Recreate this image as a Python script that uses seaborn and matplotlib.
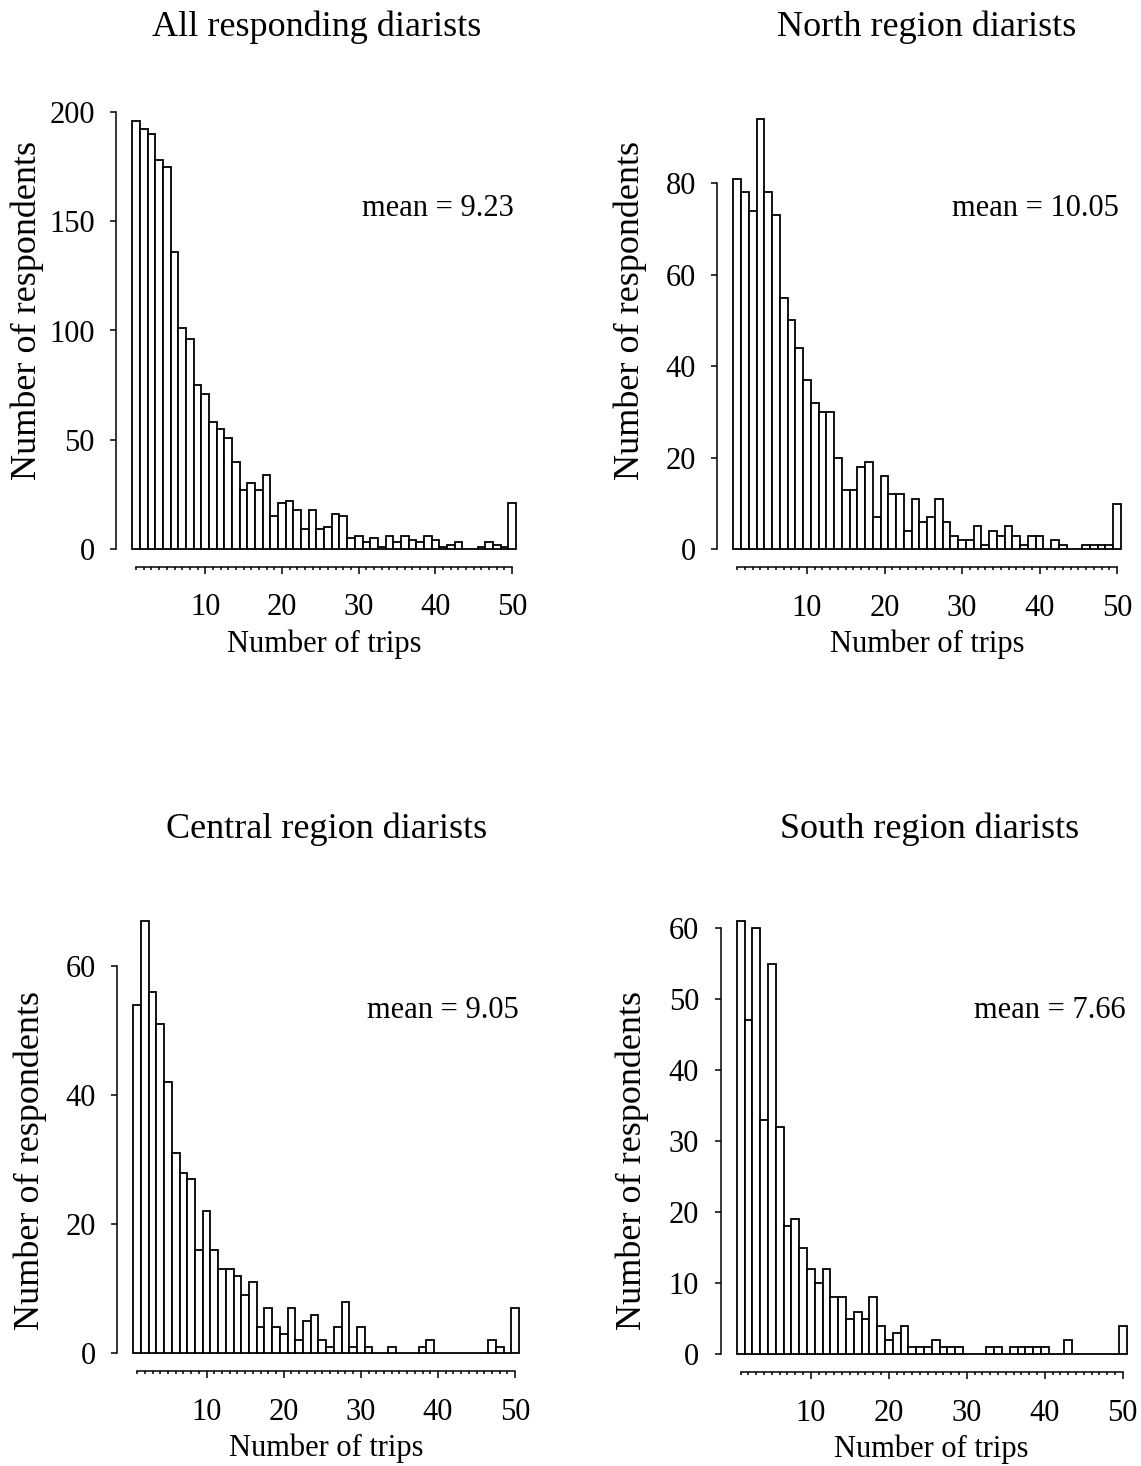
import numpy as np
import pandas as pd
import matplotlib
matplotlib.use("Agg")
import matplotlib.pyplot as plt
import seaborn as sns

trips = list(range(1, 51))

all_counts = [196, 192, 190, 178, 175, 136, 101, 96, 75, 71, 58, 55, 51, 40, 27, 30, 27, 34, 15, 21,
              22, 18, 9, 18, 9, 10, 16, 15, 5, 6, 3, 5, 1, 6, 3, 6, 4, 3, 6, 4,
              1, 2, 3, 0, 0, 1, 3, 2, 1, 21]
north_counts = [81, 78, 74, 94, 78, 73, 55, 50, 44, 37, 32, 30, 30, 20, 13, 13, 18, 19, 7, 16,
                12, 12, 4, 11, 6, 7, 11, 6, 3, 2, 2, 5, 1, 4, 3, 5, 3, 1, 3, 3,
                0, 2, 1, 0, 0, 1, 1, 1, 1, 10]
central_counts = [54, 67, 56, 51, 42, 31, 28, 27, 16, 22, 16, 13, 13, 12, 9, 11, 4, 7, 4, 3,
                  7, 2, 5, 6, 2, 1, 4, 8, 1, 4, 1, 0, 0, 1, 0, 0, 0, 1, 2, 0,
                  0, 0, 0, 0, 0, 0, 2, 1, 0, 7]
south_counts = [61, 47, 60, 33, 55, 32, 18, 19, 15, 12, 10, 12, 8, 8, 5, 6, 5, 8, 4, 2,
                3, 4, 1, 1, 1, 2, 1, 1, 1, 0, 0, 0, 1, 1, 0, 1, 1, 1, 1, 1,
                0, 0, 2, 0, 0, 0, 0, 0, 0, 4]

titles = ["All responding diarists", "North region diarists",
          "Central region diarists", "South region diarists"]
means = ["mean = 9.23", "mean = 10.05", "mean = 9.05", "mean = 7.66"]
xtick_labels = [10, 20, 30, 40, 50]
ytick_sets = [[0, 50, 100, 150, 200], [0, 20, 40, 60, 80],
              [0, 20, 40, 60], [0, 10, 20, 30, 40, 50, 60]]
xlabel = "Number of trips"
ylabel = "Number of respondents"

sns.set_style("ticks")
plt.rcParams["font.family"] = ["Liberation Serif", "DejaVu Serif"]
plt.rcParams["text.color"] = "black"
plt.rcParams["axes.labelcolor"] = "black"
plt.rcParams["xtick.color"] = "black"
plt.rcParams["ytick.color"] = "black"
FS = 22
FS_BIG = 26

W, H = 1141, 1466
fig = plt.figure(figsize=(W / 100, H / 100), dpi=100)

# pixel boxes (left, right, top, bottom) and y-axis tops
boxes = [(132.3, 516, 112, 549), (733.3, 1121, 114.5, 549.3),
         (133.3, 519, 920.7, 1353.3), (736.7, 1126.7, 921, 1354.3)]
ytops = [200, 95, 67, 61]
title_pos = [(317, 27), (927, 27), (327, 829), (930, 829)]
mean_pos = [(514, 208), (1119, 208), (519, 1010), (1126, 1010)]
ylab_pos = [(27, 310), (630, 310), (30, 1160), (632, 1160)]

series = [all_counts, north_counts, central_counts, south_counts]

for i in range(4):
    l, r, t, b = boxes[i]
    ax = fig.add_axes([l / W, 1 - b / H, (r - l) / W, (b - t) / H])
    df = pd.DataFrame({"trips": trips, "count": series[i]})
    sns.barplot(data=df, x="trips", y="count", native_scale=True, width=1,
                color="white", edgecolor="black", linewidth=1.3,
                errorbar=None, ax=ax)
    for p in ax.patches:
        p.set_facecolor("white")
        p.set_clip_on(False)
    ax.set_xlim(0.5, 50.5)
    ax.set_ylim(0, ytops[i])
    ax.set_xticks(xtick_labels)
    ax.set_xticklabels([str(v) for v in xtick_labels])
    ax.set_xticks(trips, minor=True)
    ax.set_xticklabels([], minor=True)
    ax.set_yticks(ytick_sets[i])
    ax.set_yticklabels([str(v) for v in ytick_sets[i]])
    ax.tick_params(axis="x", which="major", length=5, width=1.1, pad=14,
                   labelsize=FS, labelcolor="black")
    ax.tick_params(axis="x", which="minor", length=2.4, width=1.1)
    ax.tick_params(axis="y", which="major", length=4.5, width=1.1, pad=11,
                   labelsize=FS, labelcolor="black")
    for s in ["top", "right"]:
        ax.spines[s].set_visible(False)
    ax.spines["left"].set_position(("outward", 11.5))
    ax.spines["bottom"].set_position(("outward", 13))
    ax.spines["left"].set_bounds(0, ytick_sets[i][-1])
    ax.spines["bottom"].set_bounds(1, 50)
    for s in ["left", "bottom"]:
        ax.spines[s].set_linewidth(1.1)
        ax.spines[s].set_color("black")
    ax.set_xlabel(xlabel, fontsize=FS, labelpad=5, color="black")
    ax.set_ylabel("")
    ax.patch.set_alpha(0)

    tx, ty = title_pos[i]
    fig.text(tx / W, 1 - ty / H, titles[i], fontsize=FS_BIG, ha="center", va="center")
    mx, my = mean_pos[i]
    fig.text(mx / W, 1 - my / H, means[i], fontsize=FS, ha="right", va="center")
    yx, yy = ylab_pos[i]
    fig.text(yx / W, 1 - yy / H, ylabel, fontsize=FS_BIG, ha="center", va="center", rotation=90)

fig.savefig("out.png", dpi=100, facecolor="white")
